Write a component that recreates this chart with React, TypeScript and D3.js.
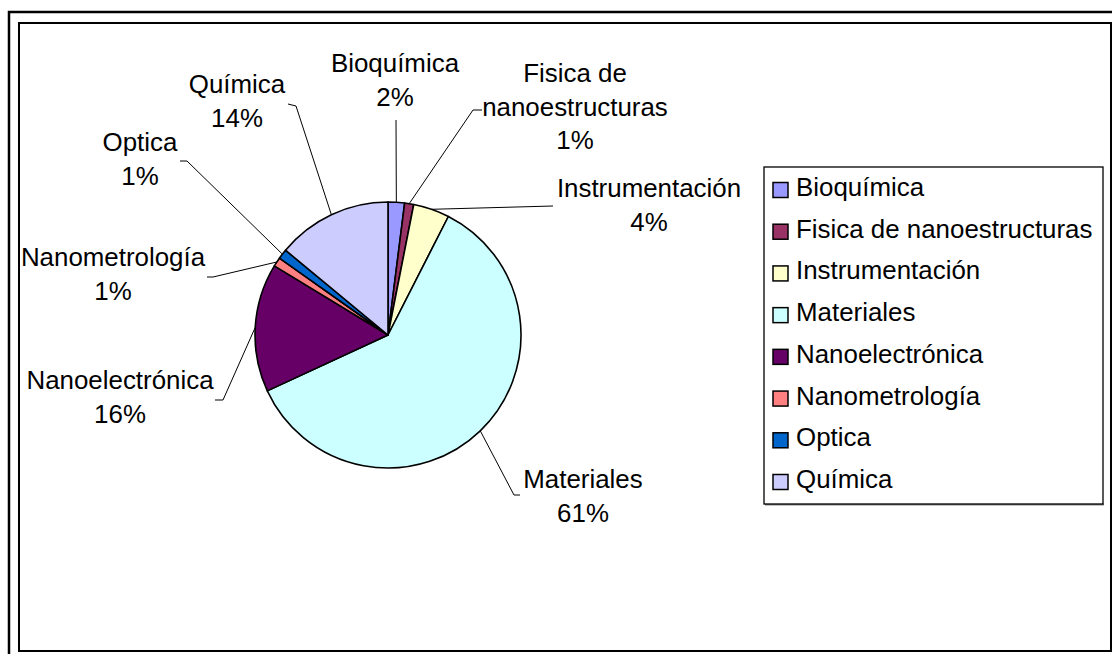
import React from "react";
import * as d3 from "d3";

const categories = [
  "Bioquímica",
  "Fisica de nanoestructuras",
  "Instrumentación",
  "Materiales",
  "Nanoelectrónica",
  "Nanometrología",
  "Optica",
  "Química",
];
const values = [2.0, 1.1, 4.4, 60.6, 15.6, 1.1, 1.2, 14.0];
const colors = ["#9999FF", "#993366", "#FFFFCC", "#CCFFFF", "#660066", "#FF8080", "#0066CC", "#CCCCFF"];
// label text lines (name split over lines); percentage appended
const labelLines = [
  ["Bioquímica"],
  ["Fisica de", "nanoestructuras"],
  ["Instrumentación"],
  ["Materiales"],
  ["Nanoelectrónica"],
  ["Nanometrología"],
  ["Optica"],
  ["Química"],
];

// layout of data labels: center x, first baseline y, leader points (after the pie edge point)
const labelLayout = [
  { cx: 395, y: 72, leader: [[396, 120]] },
  { cx: 575, y: 82, leader: [[473, 110], [482, 110]] },
  { cx: 649, y: 197, leader: [[553, 206]] },
  { cx: 583, y: 488, leader: [[514, 495], [520, 495]] },
  { cx: 120, y: 389, leader: [[223, 400], [215, 400]] },
  { cx: 113, y: 266, leader: [[213, 277], [207, 277]] },
  { cx: 140, y: 151, leader: [[187, 161], [180, 161]] },
  { cx: 237, y: 93, leader: [[296, 106], [288, 104]] },
];

const FONT = "'Liberation Sans', Arial, sans-serif";
const FS = 25.9;
const LH = 33.7;

export default function App() {
  const cx = 388;
  const cy = 335;
  const r = 133;
  const total = d3.sum(values);
  const pie = d3.pie<number>().sort(null).value((d) => d).startAngle(0).endAngle(2 * Math.PI);
  const arcs = pie(values);
  const arc = d3.arc<d3.PieArcDatum<number>>().innerRadius(0).outerRadius(r);

  const legendX = 764;
  const legendY = 167;
  const legendW = 339;
  const legendH = 337;
  const rowY = d3.scaleLinear().domain([0, categories.length - 1]).range([196, 488]);

  return (
    <svg
      width={1112}
      height={654}
      style={{ position: "absolute", left: 0, top: 0, background: "#fff" }}
      fontFamily={FONT}
    >
      <rect x={0} y={0} width={1112} height={654} fill="#fff" />
      <rect x={9} y={12} width={1200} height={1000} fill="none" stroke="#000" strokeWidth={2.5} />
      <rect x={19} y={23} width={1092} height={628} fill="#fff" stroke="#000" strokeWidth={2} />

      <g transform={`translate(${cx},${cy})`}>
        {arcs.map((a, i) => (
          <path key={i} d={arc(a) || ""} fill={colors[i]} stroke="#000" strokeWidth={1.6} strokeLinejoin="round" />
        ))}
      </g>

      {arcs.map((a, i) => {
        const mid = (a.startAngle + a.endAngle) / 2;
        const ex = cx + r * Math.sin(mid);
        const ey = cy - r * Math.cos(mid);
        const pts = [[ex, ey], ...labelLayout[i].leader];
        const line = d3.line()(pts as [number, number][]);
        return <path key={"l" + i} d={line || ""} fill="none" stroke="#000" strokeWidth={1} />;
      })}

      {categories.map((c, i) => {
        const lines = [...labelLines[i], `${Math.round((values[i] / total) * 100)}%`];
        const L = labelLayout[i];
        return (
          <text key={"t" + i} x={L.cx} y={L.y} textAnchor="middle" fontSize={FS} fill="#000">
            {lines.map((ln, j) => (
              <tspan key={j} x={L.cx} y={L.y + j * LH}>
                {ln}
              </tspan>
            ))}
          </text>
        );
      })}

      <rect x={legendX + 1} y={legendY + legendH - 0.5} width={legendW} height={2} fill="#888" />
      <rect x={legendX} y={legendY} width={legendW} height={legendH} fill="#fff" stroke="#000" strokeWidth={1.3} />
      {categories.map((c, i) => (
        <g key={"g" + i}>
          <rect x={773} y={rowY(i) - 13.5} width={15} height={15} fill={colors[i]} stroke="#000" strokeWidth={1.5} />
          <text x={796} y={rowY(i)} fontSize={FS} fill="#000">
            {c}
          </text>
        </g>
      ))}
    </svg>
  );
}
